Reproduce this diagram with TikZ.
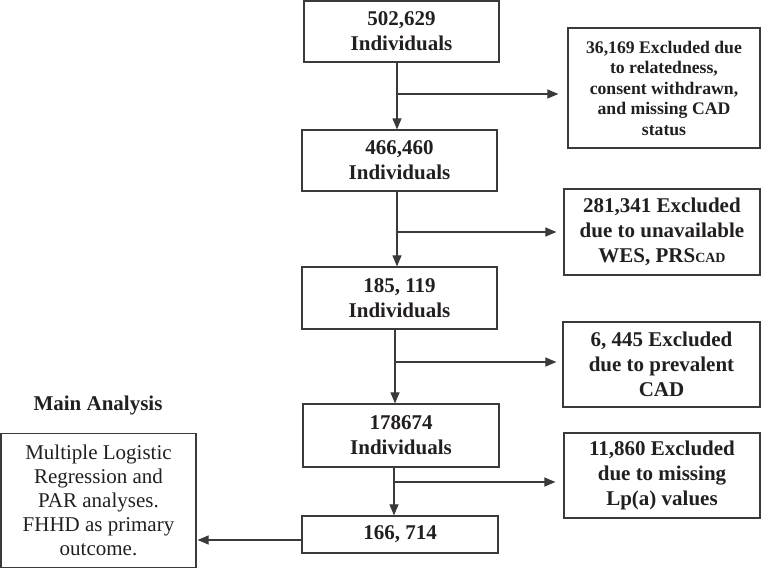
\documentclass[tikz,border=0pt]{standalone}
\usepackage{fontspec}
\setmainfont{Liberation Serif}
\usetikzlibrary{arrows.meta}
\definecolor{ln}{HTML}{3A3A3A}
\definecolor{tx}{HTML}{231F20}
\tikzset{
  box/.style={draw=ln, line width=1.2pt, inner sep=0pt, align=center, text=tx,
    font=\fontsize{21}{25}\selectfont\bfseries},
  smallbox/.style={box, font=\fontsize{17.7}{20.5}\selectfont\bfseries},
  plainbox/.style={box, font=\fontsize{21}{24}\selectfont},
  arr/.style={draw=ln, line width=1.1pt, -{Triangle[length=11pt,width=9pt]}},
  lbl/.style={text=tx, font=\fontsize{21}{25}\selectfont\bfseries}
}
\begin{document}
\begin{tikzpicture}[x=1pt,y=-1pt]
\useasboundingbox (0,0) rectangle (761,569);
\node[box, minimum width=195, minimum height=61] (b1) at (401.5,31.5) {502,629\\Individuals};
\node[box, minimum width=195, minimum height=61] (b2) at (399.5,160.5) {466,460\\Individuals};
\node[box, minimum width=195, minimum height=62] (b3) at (399.5,298) {185, 119\\Individuals};
\node[box, minimum width=196, minimum height=63] (b4) at (401,435.5) {178674\\Individuals};
\node[box, minimum width=196, minimum height=37] (b5) at (400,534.5) {166, 714};
\node[smallbox, minimum width=192, minimum height=120] (e1) at (664,88) {36,169 Excluded due\\to relatedness,\\consent withdrawn,\\and missing CAD\\status};
\node[box, minimum width=196, minimum height=86] (e2) at (662,232) {281,341 Excluded\\due to unavailable\\WES, PRS{\fontsize{14}{14}\selectfont CAD}};
\node[box, minimum width=197, minimum height=85] (e3) at (661.5,364.5) {6, 445 Excluded\\due to prevalent\\CAD};
\node[box, minimum width=196, minimum height=85] (e4) at (662,475.5) {11,860 Excluded\\due to missing\\Lp(a) values};
\node[plainbox, minimum width=195, minimum height=134] (m) at (98.5,500.5) {Multiple Logistic\\Regression and\\PAR analyses.\\FHHD as primary\\outcome.};
\node[lbl] (ma) at (98,405) {Main Analysis};
% vertical arrows
\coordinate (v1) at (397,62);
\coordinate (v2) at (397,191);
\coordinate (v3) at (395,329);
\coordinate (v4) at (394,467);
\draw[arr] (v1) -- (v1 |- b2.north);
\draw[arr] (v2) -- (v2 |- b3.north);
\draw[arr] (v3) -- (v3 |- b4.north);
\draw[arr] (v4) -- (v4 |- b5.north);
% branches
\coordinate (j1) at (397,94);
\coordinate (j2) at (397,232);
\coordinate (j3) at (395,362);
\coordinate (j4) at (394,482);
\draw[arr, shorten >=9pt] (j1) -- (j1 -| e1.west);
\draw[arr, shorten >=7pt] (j2) -- (j2 -| e2.west);
\draw[arr, shorten >=6pt] (j3) -- (j3 -| e3.west);
\draw[arr, shorten >=8pt] (j4) -- (j4 -| e4.west);
% to main analysis
\coordinate (k) at (302,540);
\draw[arr, shorten >=1pt] (k) -- (k -| m.east);
\end{tikzpicture}
\end{document}
